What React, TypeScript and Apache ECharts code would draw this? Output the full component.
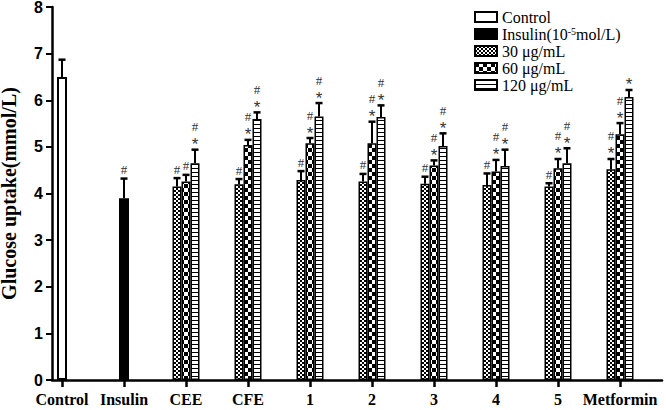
import React, { useEffect, useRef } from "react";
import * as echarts from "echarts";

const categories = ["Control", "Insulin", "CEE", "CFE", "1", "2", "3", "4", "5", "Metformin"];
const seriesNames = ["Control", "Insulin(10-5mol/L)", "30 μg/mL", "60 μg/mL", "120 μg/mL"];

const controlValues = [6.5, null, null, null, null, null, null, null, null, null];
const controlErr = [6.87, null, null, null, null, null, null, null, null, null];
const controlMarks = ["", "", "", "", "", "", "", "", "", ""];

const insulinValues = [null, 3.9, null, null, null, null, null, null, null, null];
const insulinErr = [null, 4.32, null, null, null, null, null, null, null, null];
const insulinMarks = ["", "#", "", "", "", "", "", "", "", ""];

const dose30 = [null, null, 4.15, 4.2, 4.29, 4.26, 4.21, 4.18, 4.15, 4.52];
const dose30Err = [null, null, 4.33, 4.31, 4.48, 4.42, 4.36, 4.43, 4.22, 4.74];
const dose30Marks = ["", "", "#", "#", "#", "#", "#", "#", "#", "#*"];

const dose60 = [null, null, 4.26, 5.04, 5.08, 5.08, 4.6, 4.47, 4.54, 5.27];
const dose60Err = [null, null, 4.4, 5.15, 5.19, 5.54, 4.71, 4.72, 4.74, 5.51];
const dose60Marks = ["", "", "#", "#*", "#*", "#*", "#*", "#*", "#*", "#*"];

const dose120 = [null, null, 4.65, 5.6, 5.65, 5.64, 5.02, 4.59, 4.65, 6.07];
const dose120Err = [null, null, 4.94, 5.74, 5.94, 5.89, 5.29, 4.94, 4.97, 6.22];
const dose120Marks = ["", "", "#*", "#*", "#*", "#*", "#*", "#*", "#*", "*"];

const SERIF = "'Liberation Serif', 'Times New Roman', serif";
const SANS = "'Liberation Sans', Arial, sans-serif";
const BAR_W = 9;

function makePattern(kind: string) {
  const c = document.createElement("canvas");
  const ctx = c.getContext("2d")!;
  if (kind === "30") {
    c.width = 4; c.height = 4;
    ctx.fillStyle = "#fff"; ctx.fillRect(0, 0, 4, 4);
    ctx.fillStyle = "#000"; ctx.fillRect(0, 0, 2, 2); ctx.fillRect(2, 2, 2, 2);
  } else if (kind === "60") {
    c.width = 8; c.height = 8;
    ctx.fillStyle = "#fff"; ctx.fillRect(0, 0, 8, 8);
    ctx.fillStyle = "#000"; ctx.fillRect(0, 0, 4, 4); ctx.fillRect(4, 4, 4, 4);
  } else {
    c.width = 4; c.height = 4;
    ctx.fillStyle = "#fff"; ctx.fillRect(0, 0, 4, 4);
    ctx.fillStyle = "#000"; ctx.fillRect(0, 0, 4, 1);
  }
  return { image: c, repeat: "repeat", imageWidth: c.width, imageHeight: c.height } as any;
}

export default function App() {
  const ref = useRef<HTMLDivElement>(null);
  useEffect(() => {
    if (!ref.current) return;
    document.body.style.margin = "0";
    const chart = echarts.init(ref.current, undefined, { renderer: "svg" });

    const groups = [
      { v: controlValues, e: controlErr, m: controlMarks, slot: 0 },
      { v: insulinValues, e: insulinErr, m: insulinMarks, slot: 0 },
      { v: dose30, e: dose30Err, m: dose30Marks, slot: -1 },
      { v: dose60, e: dose60Err, m: dose60Marks, slot: 0 },
      { v: dose120, e: dose120Err, m: dose120Marks, slot: 1 },
    ];
    const errData: any[] = [];
    const errMarks: string[] = [];
    groups.forEach((g) => {
      g.v.forEach((val, i) => {
        if (val == null) return;
        errData.push([i, val, g.e[i], g.slot]);
        errMarks.push(g.m[i]);
      });
    });

    const toData = (arr: (number | null)[]) => arr.map((x) => (x == null ? "-" : x));
    const border = { borderColor: "#000", borderWidth: 1.5 };

    chart.setOption({
      animation: false,
      backgroundColor: "#fff",
      grid: [
        { left: 31, right: 15, top: 7, bottom: 30, outerBoundsMode: "none", containLabel: false },
        { left: 52, right: 4, top: 7, bottom: 30, outerBoundsMode: "none", containLabel: false },
      ],
      legend: {
        orient: "vertical",
        left: 474,
        top: 9,
        padding: 0,
        itemWidth: 22,
        itemHeight: 10,
        itemGap: 1,
        icon: "rect",
        data: seriesNames,
        textStyle: {
          fontFamily: SERIF,
          fontSize: 16,
          lineHeight: 16,
          color: "#000",
          rich: {
            sup: { fontFamily: SERIF, fontSize: 10, lineHeight: 16, verticalAlign: "top", color: "#000" },
          },
        },
        formatter: (name: string) => (name.indexOf("Insulin") === 0 ? "Insulin(10{sup|-5}mol/L)" : name),
      },
      xAxis: [
        {
          type: "category",
          gridIndex: 0,
          data: categories,
          axisLine: { show: false },
          axisTick: { show: true, alignWithLabel: true, length: 7, lineStyle: { color: "#000", width: 2.5 } },
          axisLabel: { interval: 0, color: "#000", fontFamily: SERIF, fontWeight: "bold", fontSize: 16, margin: 11 },
          splitLine: { show: false },
        },
        {
          type: "value",
          gridIndex: 1,
          min: 0,
          max: 1,
          axisLine: { show: true, onZero: false, lineStyle: { color: "#000", width: 2.5 } },
          axisTick: { show: false },
          axisLabel: { show: false },
          splitLine: { show: false },
        },
        {
          type: "category",
          gridIndex: 0,
          data: categories,
          show: false,
        },
      ],
      yAxis: [
        { type: "value", gridIndex: 0, min: 0, max: 8, interval: 1, show: false },
        {
          type: "value",
          gridIndex: 1,
          min: 0,
          max: 8,
          interval: 1,
          name: "Glucose uptake(mmol/L)",
          nameLocation: "middle",
          nameRotate: 90,
          nameGap: 33,
          nameTextStyle: { fontFamily: SERIF, fontWeight: "bold", fontSize: 20, lineHeight: 20, color: "#000" },
          axisLine: { show: true, onZero: false, lineStyle: { color: "#000", width: 2.5 } },
          axisTick: { show: true, length: 6, lineStyle: { color: "#000", width: 2 } },
          axisLabel: { color: "#000", fontFamily: SANS, fontWeight: "bold", fontSize: 16, margin: 9 },
          splitLine: { show: false },
        },
      ],
      series: [
        {
          name: seriesNames[0],
          type: "bar",
          xAxisIndex: 2,
          yAxisIndex: 0,
          stack: "ci",
          barWidth: 10,
          data: toData(controlValues),
          itemStyle: { color: "#fff", borderColor: "#000", borderWidth: 2 },
        },
        {
          name: seriesNames[1],
          type: "bar",
          xAxisIndex: 2,
          yAxisIndex: 0,
          stack: "ci",
          barWidth: 10,
          data: toData(insulinValues),
          itemStyle: { color: "#000", borderColor: "#000", borderWidth: 2 },
        },
        {
          name: seriesNames[2],
          type: "bar",
          xAxisIndex: 0,
          yAxisIndex: 0,
          barWidth: BAR_W,
          barGap: "0%",
          data: toData(dose30),
          itemStyle: { color: makePattern("30"), ...border },
        },
        {
          name: seriesNames[3],
          type: "bar",
          xAxisIndex: 0,
          yAxisIndex: 0,
          barWidth: BAR_W,
          barGap: "0%",
          data: toData(dose60),
          itemStyle: { color: makePattern("60"), ...border },
        },
        {
          name: seriesNames[4],
          type: "bar",
          xAxisIndex: 0,
          yAxisIndex: 0,
          barWidth: BAR_W,
          barGap: "0%",
          data: toData(dose120),
          itemStyle: { color: makePattern("120"), ...border },
        },
        {
          type: "custom",
          xAxisIndex: 0,
          yAxisIndex: 0,
          z: 5,
          silent: true,
          data: errData,
          renderItem: (params: any, api: any) => {
            const cat = api.value(0);
            const val = api.value(1);
            const err = api.value(2);
            const slot = api.value(3);
            const base = api.coord([cat, val]);
            const top = api.coord([cat, err]);
            const x = base[0] + slot * BAR_W;
            const mark = errMarks[params.dataIndex];
            const children: any[] = [
              { type: "line", shape: { x1: x, y1: base[1], x2: x, y2: top[1] }, style: { stroke: "#000", lineWidth: 2 } },
              { type: "line", shape: { x1: x - 3.5, y1: top[1], x2: x + 3.5, y2: top[1] }, style: { stroke: "#000", lineWidth: 2.5 } },
            ];
            if (mark) {
              const chars = mark.split("").reverse();
              let cy = top[1] - 9;
              chars.forEach((ch) => {
                const isStar = ch === "*";
                children.push({
                  type: "text",
                  x: x,
                  y: isStar ? cy + 4 : cy,
                  style: {
                    text: ch,
                    fill: "#333",
                    font: isStar ? "17px " + SANS : "13px " + SERIF,
                    align: "center",
                    verticalAlign: "middle",
                  },
                });
                cy -= 14;
              });
            }
            return { type: "group", children };
          },
        },
      ],
    });
    return () => chart.dispose();
  }, []);
  return <div ref={ref} style={{ width: 666, height: 410 }} />;
}
